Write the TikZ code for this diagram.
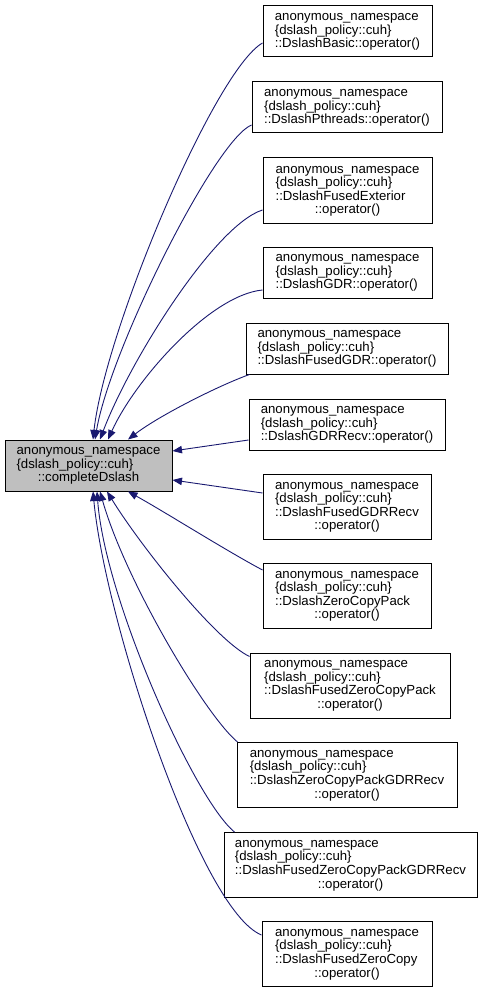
\documentclass[tikz,border=0pt]{standalone}
\usepackage{fontspec}
\setmainfont{Liberation Sans}
\usetikzlibrary{arrows.meta}
\definecolor{edgeblue}{RGB}{25,25,112}
\definecolor{rootgray}{RGB}{191,191,191}
\newcommand{\nsname}{anonymous\_namespace\\\{dslash\_policy::cuh\}}
\newcommand{\ctr}[1]{\multicolumn{1}{@{}c@{}}{#1}}
\newcommand{\fnlab}[1]{\begin{tabular}{@{}l@{}}\nsname\\#1\end{tabular}}

\begin{document}
\begin{tikzpicture}[x=1pt, y=-1pt,
    font=\fontsize{13.2}{13.3}\selectfont,
    fnbox/.style={draw=black, fill=white, line width=1pt, inner sep=0pt},
    rootbox/.style={fnbox, fill=rootgray},
    calledge/.style={draw=edgeblue, line width=0.9pt, -{Triangle[length=9.5pt, width=7.5pt]}}]
  \useasboundingbox (0,0) rectangle (480,992);
  % caller
  \node[rootbox, minimum width=167pt, minimum height=51pt] (cd) at (88.5,465.5) {\fnlab{\ctr{::completeDslash}}};
  % callees
  \node[fnbox, minimum width=169pt, minimum height=51pt] (b1) at (347.5,31.5) {\fnlab{::DslashBasic::operator()}};
  \node[fnbox, minimum width=190pt, minimum height=51pt] (b2) at (347,107.5) {\fnlab{::DslashPthreads::operator()}};
  \node[fnbox, minimum width=169pt, minimum height=66pt] (b3) at (347.5,191) {\fnlab{::DslashFusedExterior\\\ctr{::operator()}}};
  \node[fnbox, minimum width=169pt, minimum height=51pt] (b4) at (347.5,272.5) {\fnlab{::DslashGDR::operator()}};
  \node[fnbox, minimum width=202pt, minimum height=51pt] (b5) at (347,348.5) {\fnlab{::DslashFusedGDR::operator()}};
  \node[fnbox, minimum width=196pt, minimum height=51pt] (b6) at (347,424.5) {\fnlab{::DslashGDRRecv::operator()}};
  \node[fnbox, minimum width=168pt, minimum height=65pt] (b7) at (347,507) {\fnlab{::DslashFusedGDRRecv\\\ctr{::operator()}}};
  \node[fnbox, minimum width=168pt, minimum height=65pt] (b8) at (347,596) {\fnlab{::DslashZeroCopyPack\\\ctr{::operator()}}};
  \node[fnbox, minimum width=200pt, minimum height=65pt] (b9) at (350,685.5) {\fnlab{::DslashFusedZeroCopyPack\\\ctr{::operator()}}};
  \node[fnbox, minimum width=220pt, minimum height=65pt] (b10) at (347,775) {\fnlab{::DslashZeroCopyPackGDRRecv\\\ctr{::operator()}}};
  \node[fnbox, minimum width=253pt, minimum height=65pt] (b11) at (350.5,865) {\fnlab{::DslashFusedZeroCopyPackGDRRecv\\\ctr{::operator()}}};
  \node[fnbox, minimum width=170pt, minimum height=65pt] (b12) at (347,954) {\fnlab{::DslashFusedZeroCopy\\\ctr{::operator()}}};
  % calls
  \draw[calledge] ([yshift=-11.5pt]b1.west) .. controls (215,70) and (105,330) .. ([xshift=4.5pt]cd.north);
  \draw[calledge] ([yshift=-17.5pt]b2.west) .. controls (215,140) and (110,350) .. ([xshift=6.5pt]cd.north);
  \draw[calledge] ([yshift=-19pt]b3.west) .. controls (215,225) and (130,360) .. ([xshift=11.5pt]cd.north);
  \draw[calledge] ([yshift=-17.5pt]b4.west) .. controls (210,295) and (135,380) .. ([xshift=19.5pt]cd.north);
  \draw[calledge] ([xshift=4pt]b5.south west) .. controls (220,385) and (160,415) .. ([xshift=39.5pt]cd.north);
  \draw[calledge] ([yshift=-15.5pt]b6.west) -- ([yshift=14.5pt]cd.east);
  \draw[calledge] ([yshift=14pt]b7.west) -- ([yshift=-14.5pt]cd.east);
  \draw[calledge] ([yshift=26pt]b8.west) .. controls (225,550) and (165,512) .. ([xshift=39.5pt]cd.south);
  \draw[calledge] ([yshift=-4pt]b9.north west) .. controls (215,640) and (140,545) .. ([xshift=18.5pt]cd.south);
  \draw[calledge] ([xshift=1pt]b10.north west) .. controls (205,715) and (125,580) .. ([xshift=11.5pt]cd.south);
  \draw[calledge] ([xshift=11pt]b11.north west) .. controls (195,800) and (105,600) .. ([xshift=8.5pt]cd.south);
  \draw[calledge] ([yshift=19pt]b12.west) .. controls (200,910) and (105,620) .. ([xshift=4.5pt]cd.south);
\end{tikzpicture}
\end{document}
